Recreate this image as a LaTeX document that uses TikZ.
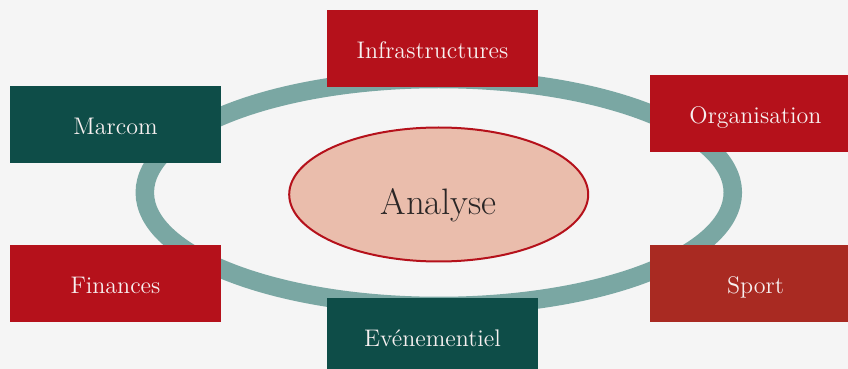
\documentclass[tikz,border=0pt]{standalone}
\usetikzlibrary{shapes.geometric}
\definecolor{bgc}{HTML}{F5F5F5}
\definecolor{redc}{HTML}{B5111B}
\definecolor{sportc}{HTML}{A92A22}
\definecolor{tealc}{HTML}{0E4D48}
\definecolor{ringc}{HTML}{7AA7A3}
\definecolor{fillc}{HTML}{EABDAC}
\definecolor{txtc}{HTML}{F7F0F0}
\definecolor{darktxt}{HTML}{2A2626}
\tikzset{
  box/.style={rectangle, inner sep=0pt, minimum width=105.5pt, minimum height=38.5pt,
    text height=11pt, text depth=1pt,
    text=txtc, font=\fontsize{12}{14}\selectfont},
  redbox/.style={box, fill=redc},
  tealbox/.style={box, fill=tealc},
  sportbox/.style={box, fill=sportc},
  centre/.style={ellipse, draw=redc, line width=1pt, fill=fillc, inner sep=0pt,
    minimum width=149.5pt, minimum height=67pt, text=darktxt,
    text height=20.8pt, text depth=1pt,
    font=\fontsize{18.4}{22}\selectfont},
  ringline/.style={draw=ringc, line width=9.25pt}
}
\begin{document}
\begin{tikzpicture}[x=0.5pt,y=-0.5pt]
\clip (0,0) rectangle (848,369);
\fill[bgc] (0,0) rectangle (848,369);
\draw[ringline] (438.8,192.5) ellipse [x radius=294, y radius=113.5];
\node[centre] (analyse) at (438.7,194.5) {Analyse};
\node[redbox] (infra) at (432.5,48.5) {Infrastructures};
\node[tealbox] (marcom) at (115.5,124.5) {Marcom};
\node[redbox] (org) at (755.5,114) {Organisation};
\node[redbox] (fin) at (115.5,283.5) {Finances};
\node[sportbox] (sport) at (755.5,283.5) {Sport};
\node[tealbox] (even) at (432.5,336.2) {Evénementiel};
\end{tikzpicture}
\end{document}
